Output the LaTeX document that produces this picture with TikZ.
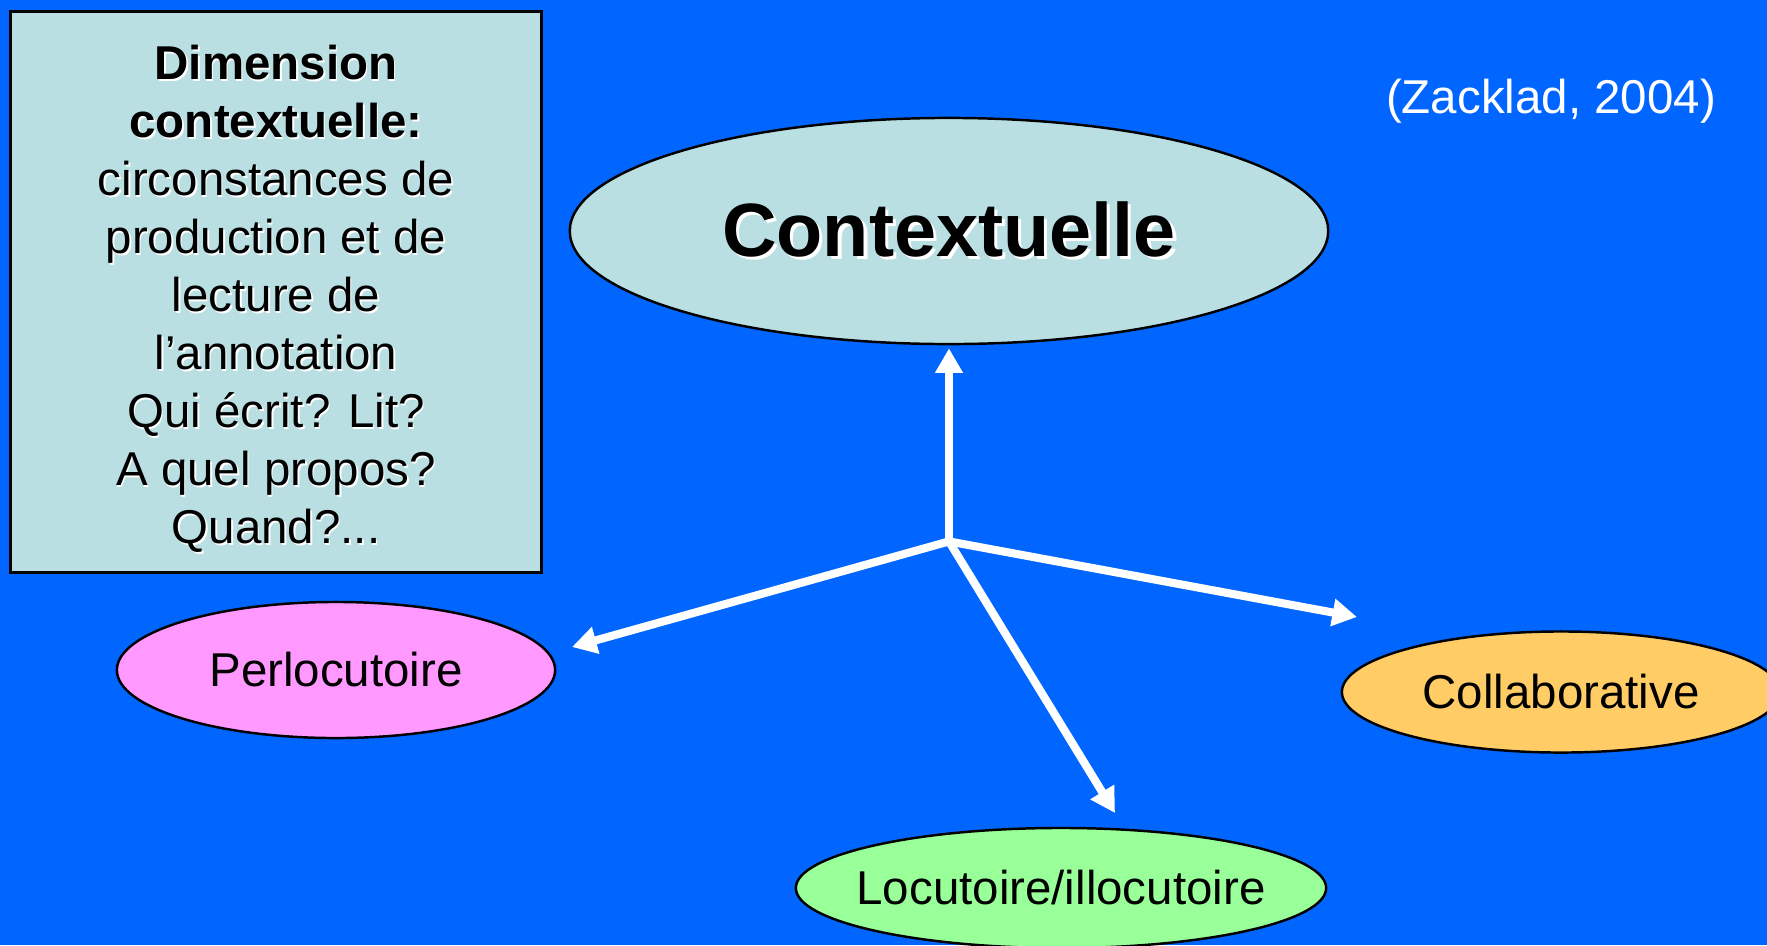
\documentclass[tikz,border=0pt]{standalone}
\usepackage{fontspec}
\setmainfont{Liberation Sans}
\usepackage{tikz}
\usetikzlibrary{arrows.meta,positioning,shapes.geometric}
\definecolor{bgblue}{RGB}{0,102,255}
\definecolor{paleblue}{RGB}{185,223,226}
\definecolor{pinkfill}{RGB}{255,153,255}
\definecolor{greenfill}{RGB}{153,255,153}
\definecolor{orangefill}{RGB}{255,204,102}
\tikzset{
  note/.style  ={draw,line width=0.8pt,fill=paleblue,align=center,
                 font=\fontsize{13.5}{16.5}\selectfont,inner sep=0pt,
                 minimum width=5.30cm,minimum height=5.60cm},
  bubble/.style={draw,ellipse,line width=0.7pt,inner sep=0pt,
                 font=\fontsize{13.5}{16.5}\selectfont},
  big/.style   ={bubble,fill=paleblue,font=\fontsize{21.5}{24}\selectfont\bfseries},
  cite/.style  ={text=white,font=\fontsize{13.5}{16.5}\selectfont},
  ar/.style    ={white,line width=2.3pt,-{Triangle[length=7pt,width=7.5pt]}},
}
% white drop shadow behind a line of text
\newcommand{\shd}[2][0.45pt]{\leavevmode\rlap{\kern#1\raisebox{-#1}{\color{white}#2}}#2}

\begin{document}
\begin{tikzpicture}[x=0.01cm,y=-0.01cm]
\useasboundingbox (0,0) rectangle (1767,945);
\fill[bgblue] (0,0) rectangle (1767,945);

\node[note] (D) at (276,292) {\rule{0pt}{14.2pt}\shd{\textbf{Dimension}}\\
  \shd{\textbf{contextuelle:}}\\ \shd{circonstances de}\\
  \shd{production et de}\\ \shd{lecture de}\\ \shd{l’annotation}\\
  \shd{Qui écrit? Lit?}\\ \shd{A quel propos?}\\ \shd{Quand?...}};

\node[cite] (Z) at (1551,101) {(Zacklad, 2004)};

\node[big,minimum width=7.58cm,minimum height=2.26cm] (C) at (949,231)
  {\raisebox{-1.4pt}{\shd[0.9pt]{Contextuelle}}};
\coordinate[below=19.6mm of C] (hub);

\node[bubble,fill=pinkfill,minimum width=4.38cm,minimum height=1.36cm] (P) at (336,670) {Perlocutoire};
\node[bubble,fill=greenfill,minimum width=5.30cm,minimum height=1.20cm] (L) at (1061,888)
  {\raisebox{-0.8pt}{\makebox[0pt]{Locutoire/illocutoire}}};
\node[bubble,fill=orangefill,minimum width=4.38cm,minimum height=1.21cm] (K) at (1561,692) {Collaborative};

% free ends of the three lower arrows
\coordinate (tipP) at (572,647);
\coordinate (tipL) at (1115,813);
\coordinate (tipK) at (1357,617);

\draw[ar,shorten >=0.3mm] (hub) -- (C);
\draw[ar] (hub) -- (tipP);
\draw[ar] (hub) -- (tipL);
\draw[ar] (hub) -- (tipK);
\end{tikzpicture}
\end{document}
